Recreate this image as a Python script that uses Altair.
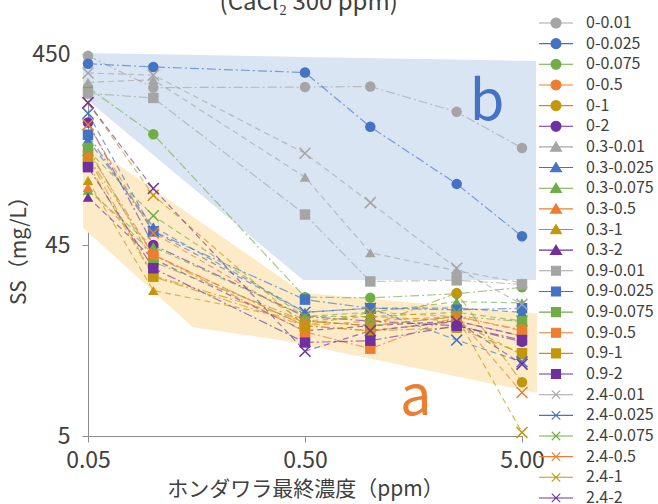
import altair as alt
import pandas as pd

FONT = "Noto Sans CJK JP"

# Final concentration of the seaweed extract (ppm)
conc = [0.05, 0.1, 0.5, 1, 2.5, 5]

# Series labels: "<CaCl2 pre-dose>-<coagulant dose>"
series = [
    "0-0.01", "0-0.025", "0-0.075", "0-0.5", "0-1", "0-2",
    "0.3-0.01", "0.3-0.025", "0.3-0.075", "0.3-0.5", "0.3-1", "0.3-2",
    "0.9-0.01", "0.9-0.025", "0.9-0.075", "0.9-0.5", "0.9-1", "0.9-2",
    "2.4-0.01", "2.4-0.025", "2.4-0.075", "2.4-0.5", "2.4-1", "2.4-2",
]

# SS (mg/L) per series, one value per concentration
ss_0_001 = [440, 300, 302, 304, 224, 145]
ss_0_0025 = [400, 385, 360, 187, 94, 50]
ss_0_0075 = [300, 171, 24, 23.8, 25, 27]
ss_0_05 = [140, 40, 17, 16, 18, 15]
ss_0_1 = [130, 31, 18, 17, 25.2, 8.6]
ss_0_2 = [197, 45, 19, 18, 17, 14]
ss_03_001 = [320, 330, 102, 41, 33, 28.5]
ss_03_0025 = [160, 56, 20, 21, 21, 20]
ss_03_0075 = [87, 44, 19, 20, 22.7, 22.4]
ss_03_05 = [90, 40, 17, 18, 19, 16]
ss_03_1 = [98, 26, 18, 19, 18, 12]
ss_03_2 = [80, 38, 16, 17, 18, 15]
ss_09_001 = [280, 265, 65, 29, 29.4, 28]
ss_09_0025 = [170, 53, 23.3, 21, 20.6, 21]
ss_09_0075 = [145, 36.6, 18, 17, 19, 17.9]
ss_09_05 = [130, 40, 15.8, 12.9, 19, 16.2]
ss_09_1 = [120, 30.7, 17, 16, 16.6, 12.2]
ss_09_2 = [115, 34, 13.9, 14.2, 17, 14.3]
ss_24_001 = [358, 349, 136, 75, 34, 22]
ss_24_0025 = [220, 53, 20, 21, 14.3, 11]
ss_24_0075 = [141, 64, 19, 19, 20, 18]
ss_24_05 = [192, 52, 18, 17, 19, 7.6]
ss_24_1 = [250, 82, 17, 20, 19, 4.7]
ss_24_2 = [250, 89, 12.5, 16, 17.9, 10.7]

ss_all = [
    ss_0_001, ss_0_0025, ss_0_0075, ss_0_05, ss_0_1, ss_0_2,
    ss_03_001, ss_03_0025, ss_03_0075, ss_03_05, ss_03_1, ss_03_2,
    ss_09_001, ss_09_0025, ss_09_0075, ss_09_05, ss_09_1, ss_09_2,
    ss_24_001, ss_24_0025, ss_24_0075, ss_24_05, ss_24_1, ss_24_2,
]

# Shaded groups: b (upper, blue) and a (lower, orange)
b_conc = [0.0474, 0.49, 5.8]
b_top = [455, 434.5, 414]
b_bottom = [270, 29.5, 29.5]
a_conc = [0.0474, 0.152, 0.384, 0.49, 5.86]
a_top = [159, 63.5, 30.6, 25.3, 19.7]
a_bottom = [55.4, 16.7, 14.3, 13.5, 7.55]

# Group letters and the heading, placed in data coordinates
b_label = {"conc": 3.45, "ss": 203, "txt": "b"}
a_label = {"conc": 1.62, "ss": 5.79, "txt": "a"}
heading = {"conc": 0.52, "ss": 765, "txt": "(CaCl₂ 300 ppm)"}

dose_colors = {
    "0.01": "#A5A5A5", "0.025": "#4472C4", "0.075": "#70AD47",
    "0.5": "#ED7D31", "1": "#C4960A", "2": "#7030A0",
}
pre_marker = {"0": "circle", "0.3": "triangle", "0.9": "square", "2.4": "x"}

rows = []
for name, vals in zip(series, ss_all):
    pre, dose = name.split("-", 1)
    for c, v in zip(conc, vals):
        rows.append({"series": name, "marker": pre_marker[pre], "conc": c, "ss": v})
df = pd.DataFrame(rows)

color_range = [dose_colors[s.split("-", 1)[1]] for s in series]
color_scale = alt.Scale(domain=series, range=color_range)

X_PATH = "M-1,-1L1,1M-1,1L1,-1"
legend_paths = {
    "circle": "M-3.4,0H3.4M1,0A1,1,0,1,1,-1,0A1,1,0,1,1,1,0Z",
    "triangle": "M-3.4,0H3.4M0,-1L1.1,0.85L-1.1,0.85Z",
    "square": "M-3.4,0H3.4M-0.9,-0.9H0.9V0.9H-0.9Z",
    "x": "M-3.4,0H3.4M-0.85,-0.85L0.85,0.85M-0.85,0.85L0.85,-0.85",
}
shape_range = [legend_paths[pre_marker[s.split("-", 1)[0]]] for s in series]

x_enc = alt.X(
    "conc:Q",
    scale=alt.Scale(type="log", domain=[0.05, 5], nice=False),
    axis=alt.Axis(values=[0.05, 0.5, 5], format=".2f", title="ホンダワラ最終濃度（ppm）"),
)
y_enc = alt.Y(
    "ss:Q",
    scale=alt.Scale(type="log", domain=[4.5, 450], nice=False),
    axis=alt.Axis(
        values=[4.5, 45, 450],
        labelExpr="datum.value < 10 ? '5' : format(datum.value, 'd')",
        title="SS（mg/L）",
    ),
)

series_legend = alt.Legend(title=None)

# Legend-only layer (no rows drawn): line + marker symbol per series
legend_layer = (
    alt.Chart(df)
    .transform_filter("false")
    .mark_point(filled=True, opacity=1)
    .encode(
        x=x_enc,
        y=y_enc,
        color=alt.Color("series:N", scale=color_scale, legend=series_legend),
        stroke=alt.Stroke("series:N", scale=alt.Scale(domain=series, range=color_range),
                          legend=series_legend),
        shape=alt.Shape("series:N", scale=alt.Scale(domain=series, range=shape_range),
                        legend=series_legend),
    )
)

b_df = pd.DataFrame({"conc": b_conc, "ss": b_top, "ss2": b_bottom})
a_df = pd.DataFrame({"conc": a_conc, "ss": a_top, "ss2": a_bottom})

area_b = alt.Chart(b_df).mark_area(color="#DAE5F4", opacity=1, interpolate="linear").encode(
    x=x_enc, y=y_enc, y2="ss2:Q"
)
area_a = alt.Chart(a_df).mark_area(color="#FDEBC7", opacity=1, interpolate="linear").encode(
    x=x_enc, y=y_enc, y2="ss2:Q"
)

lines = alt.Chart(df).mark_line(strokeWidth=1.2, opacity=0.65).encode(
    x=x_enc,
    y=y_enc,
    color=alt.Color("series:N", scale=color_scale, legend=None),
    strokeDash=alt.StrokeDash(
        "marker:N",
        scale=alt.Scale(
            domain=["circle", "triangle", "square", "x"],
            range=[[9, 3, 2, 3], [6, 4], [9, 3, 2, 3], [6, 4]],
        ),
        legend=None,
    ),
)

marker_layers = []
for m, shp in [("circle", "circle"), ("triangle", "triangle-up"), ("square", "square")]:
    marker_layers.append(
        alt.Chart(df)
        .transform_filter(alt.datum.marker == m)
        .mark_point(shape=shp, filled=True, size=110, opacity=1)
        .encode(x=x_enc, y=y_enc, color=alt.Color("series:N", scale=color_scale, legend=None))
    )
marker_layers.append(
    alt.Chart(df)
    .transform_filter(alt.datum.marker == "x")
    .mark_point(shape=X_PATH, filled=False, size=120, opacity=1, strokeWidth=1.5)
    .encode(x=x_enc, y=y_enc, color=alt.Color("series:N", scale=color_scale, legend=None))
)

text_b = alt.Chart(pd.DataFrame([b_label])).mark_text(
    fontSize=56, color="#4472C4", font=FONT, baseline="alphabetic", align="center"
).encode(x=x_enc, y=y_enc, text="txt:N")
text_a = alt.Chart(pd.DataFrame([a_label])).mark_text(
    fontSize=56, color="#ED7D31", font=FONT, baseline="alphabetic", align="center"
).encode(x=x_enc, y=y_enc, text="txt:N")
text_head = alt.Chart(pd.DataFrame([heading])).mark_text(
    fontSize=24, color="#404040", font=FONT, baseline="alphabetic", align="center"
).encode(x=x_enc, y=y_enc, text="txt:N")

chart = (
    alt.layer(legend_layer, area_b, area_a, lines, *marker_layers, text_b, text_a, text_head)
    .properties(
        width=434,
        height=382,
        autosize=alt.AutoSizeParams(type="none"),
        padding={"left": 88, "top": 54, "right": 136, "bottom": 68},
    )
    .configure_view(stroke=None)
    .configure_axis(
        grid=False,
        domainColor="#8C8C8C",
        tickColor="#8C8C8C",
        tickSize=6,
        labelFont=FONT,
        labelFontSize=23,
        labelColor="#404040",
        titleFont=FONT,
        titleFontSize=21,
        titleFontWeight="normal",
        titleColor="#404040",
        labelFlush=False,
        labelOverlap=False,
    )
    .configure_axisX(labelPadding=7, titlePadding=6)
    .configure_axisY(labelPadding=12, titlePadding=2)
    .configure_legend(
        orient="none",
        legendX=460,
        legendY=-39,
        padding=0,
        labelFont=FONT,
        labelFontSize=16,
        labelColor="#404040",
        labelOffset=22,
        symbolSize=100,
        symbolStrokeWidth=1.1,
        rowPadding=4.65,
        labelLimit=200,
    )
)

chart.save("out.html", embed_options={"renderer": "svg", "actions": False})
